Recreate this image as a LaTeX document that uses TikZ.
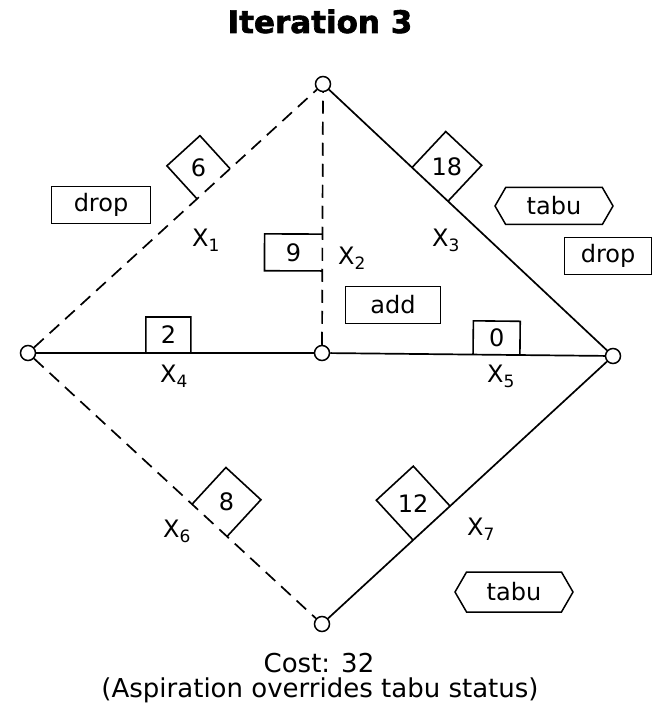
\documentclass[tikz,border=0pt]{standalone}
\usepackage{fontspec}
\setmainfont{DejaVu Sans}
\newfontfamily\titlefont[BoldFeatures={FakeBold=2}]{DejaVu Sans}
\usetikzlibrary{calc,shapes.symbols}

\tikzset{
  vertex/.style={circle,draw,line width=1.5pt,fill=white,minimum size=15pt,inner sep=0pt},
  solidedge/.style={line width=1.7pt},
  dashededge/.style={line width=1.7pt,dash pattern=on 13pt off 8pt},
  wframe/.style={line width=1.6pt},
  wnum/.style={font=\fontsize{24}{28}\selectfont,inner sep=0pt},
  varlabel/.style={font=\fontsize{24}{28}\selectfont,anchor=base west,inner sep=0pt},
  tagbox/.style={draw,line width=1.5pt,font=\fontsize{24}{28}\selectfont,inner sep=0pt,minimum height=37pt},
  tabutag/.style={tagbox,signal,signal to=east and west,signal pointer angle=120},
  caption/.style={font=\fontsize{26}{30}\selectfont,anchor=base,inner sep=0pt}
}

% variable name with a lowered index
\newcommand\xvar[1]{X\raisebox{-5pt}{\fontsize{17}{17}\selectfont #1}}

% weight box standing on an edge: name, from, to, start, end, depth factor, value
\newcommand\wbox[7]{%
  \coordinate (#1-a) at ($(#2)!#4!(#3)$);
  \coordinate (#1-b) at ($(#2)!#5!(#3)$);
  \coordinate (#1-c) at ($(#1-a)!#6!90:(#1-b)$);
  \coordinate (#1-d) at ($(#1-b)!#6!-90:(#1-a)$);
  \draw[wframe] (#1-a) -- (#1-c) -- (#1-d) -- (#1-b);
  \node[wnum] (#1) at ($(#1-a)!0.5!(#1-d)$) {#7};
}

\begin{document}
\begin{tikzpicture}[x=1pt,y=-1pt]
  \useasboundingbox (0,0) rectangle (654,708);

  \node[anchor=base,inner sep=0pt,font=\fontsize{31}{36}\titlefont\bfseries] (title) at (320,33) {Iteration 3};

  % vertices
  \node[vertex] (T) at (323,84) {};
  \node[vertex] (L) at (28,353) {};
  \node[vertex] (C) at (322,353) {};
  \node[vertex] (R) at (613,356) {};
  \node[vertex] (B) at (322,624) {};

  % edges
  \draw[dashededge] (L) -- (T);
  \draw[dashededge] (C) -- (T);
  \draw[solidedge] (T) -- (R);
  \draw[solidedge] (L) -- (C);
  \draw[solidedge] (C) -- (R);
  \draw[dashededge] (L) -- (B);
  \draw[solidedge] (B) -- (R);

  % edge weights
  \wbox{w1}{L}{T}{0.573}{0.685}{1}{6}
  \wbox{w2}{C}{T}{0.305}{0.442}{1.57}{9}
  \wbox{w3}{T}{R}{0.307}{0.431}{1}{18}
  \wbox{w4}{L}{C}{0.401}{0.554}{0.8}{2}
  \wbox{w5}{C}{R}{0.519}{0.680}{0.72}{0}
  \wbox{w6}{L}{B}{0.558}{0.677}{1.05}{8}
  \wbox{w7}{B}{R}{0.313}{0.440}{1.08}{12}

  % variable names
  \node[varlabel] (x1) at (192,247) {\xvar{1}};
  \node[varlabel] (x2) at (338,265) {\xvar{2}};
  \node[varlabel] (x3) at (432,247) {\xvar{3}};
  \node[varlabel] (x4) at (160,382) {\xvar{4}};
  \node[varlabel] (x5) at (487,382) {\xvar{5}};
  \node[varlabel] (x6) at (163,537) {\xvar{6}};
  \node[varlabel] (x7) at (467,535) {\xvar{7}};

  % move tags
  \node[tagbox,minimum width=99pt] (dropL) at (101,205) {drop};
  \node[tabutag,minimum width=118pt] (tabuT) at (554,206) {tabu};
  \node[tagbox,minimum width=87pt] (dropR) at (608,256) {drop};
  \node[tagbox,minimum width=95pt] (add) at (393,305) {add};
  \node[tabutag,minimum width=118pt,minimum height=40pt] (tabuB) at (514,592) {tabu};

  % summary
  \node[caption] (cost) at (319,672) {Cost: 32};
  \node[caption] (note) at (320,697) {(Aspiration overrides tabu status)};
\end{tikzpicture}
\end{document}
